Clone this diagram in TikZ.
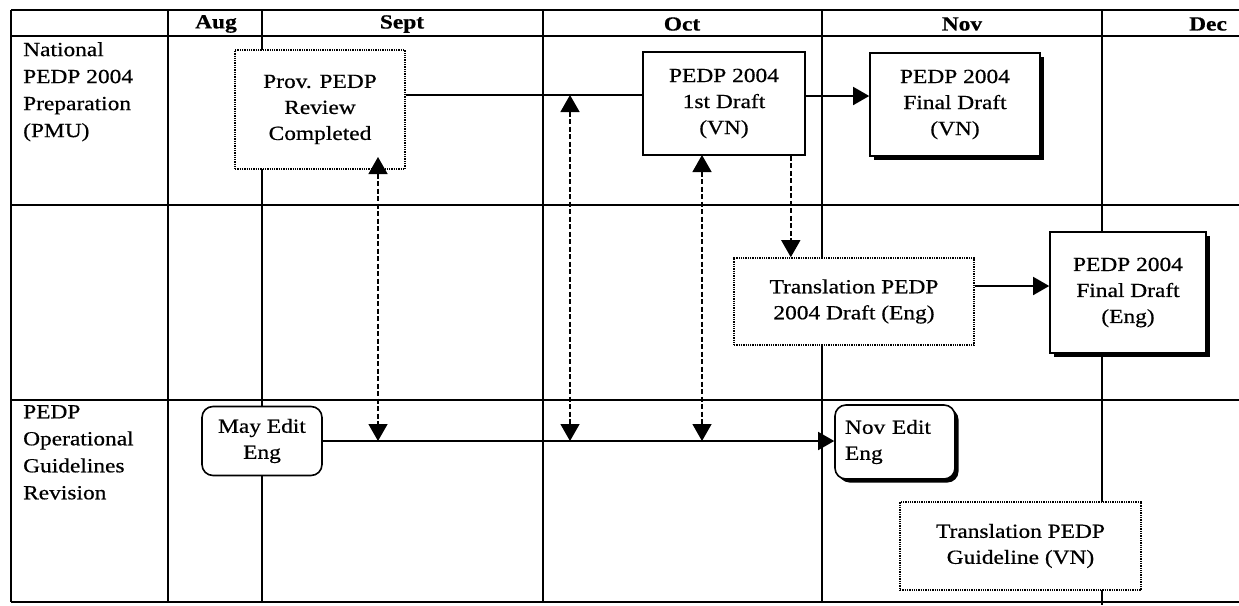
\documentclass[tikz,border=0pt]{standalone}
\usepackage{fontspec}
\setmainfont{Liberation Serif}[FakeStretch=1.17,FakeBold=0.6]
\usetikzlibrary{arrows.meta,shadows}
\begin{document}
\begin{tikzpicture}[x=1pt,y=-1pt,
  font=\fontsize{20}{26}\selectfont,
  grid/.style={line width=1.2pt},
  head/.style={font=\fontsize{20}{26}\selectfont\bfseries, anchor=center},
  rowlabel/.style={anchor=north west, inner sep=0pt, align=left, font=\fontsize{20}{27}\selectfont},
  box/.style={draw, fill=white, line width=1.6pt, align=center, inner sep=2pt},
  dotbox/.style={box, line width=1.6pt, dash pattern=on 1.3pt off 1pt},
  shbox/.style={box, drop shadow={shadow xshift=3.5pt, shadow yshift=-3.5pt, fill=black, opacity=1}},
  rbox/.style={box, rounded corners=11pt},
  conn/.style={line width=1.6pt},
  arr/.style={conn, -{Triangle[length=16pt,width=18pt]}},
  darr/.style={line width=1.4pt, dash pattern=on 5pt off 2.5pt, {Triangle[length=17pt,width=19pt]}-{Triangle[length=17pt,width=19pt]}},
  dparr/.style={line width=1.4pt, dash pattern=on 5pt off 2.5pt, -{Triangle[length=17pt,width=19pt]}}
]
\useasboundingbox (0,0) rectangle (1239,605);
\fill[white] (0,0) rectangle (1239,605);

% table
\draw[grid] (11,10) -- (1239,10);
\draw[grid] (11,36) -- (1239,36);
\draw[grid] (11,205) -- (1239,205);
\draw[grid] (11,400) -- (1239,400);
\draw[grid] (11,602) -- (1239,602);
\draw[grid] (11,10) -- (11,602);
\draw[grid] (168,10) -- (168,602);
\draw[grid] (262,10) -- (262,602);
\draw[grid] (543,10) -- (543,602);
\draw[grid] (822,10) -- (822,602);
\draw[grid] (1102,10) -- (1102,605);

% header
\node[head] (haug) at (216,24) {Aug};
\node[head] (hsep) at (402,24) {Sept};
\node[head] (hoct) at (682,24) {Oct};
\node[head] (hnov) at (962,24) {Nov};
\node[head] (hdec) at (1208,24) {Dec};

% row labels
\node[rowlabel] (r1) at (23,42) {National\\PEDP 2004\\Preparation\\(PMU)};
\node[rowlabel] (r3) at (23,405) {PEDP\\Operational\\Guidelines\\Revision};

% boxes
\node[dotbox, minimum width=170pt, minimum height=119pt] (prov) at (320,109.5) {Prov. PEDP\\Review\\Completed};
\node[box, minimum width=162pt, minimum height=103pt] (draft1) at (724,103.5) {PEDP 2004\\1st Draft\\(VN)};
\node[shbox, minimum width=170pt, minimum height=103pt] (finalvn) at (955,104.5) {PEDP 2004\\Final Draft\\(VN)};
\node[dotbox, minimum width=240pt, minimum height=87pt] (transeng) at (854,301.5) {Translation PEDP\\2004 Draft (Eng)};
\node[shbox, minimum width=156pt, minimum height=121pt] (finaleng) at (1128,292.5) {PEDP 2004\\Final Draft\\(Eng)};
\node[rbox, minimum width=120pt, minimum height=69pt] (mayedit) at (262,441) {May Edit\\Eng};
\node[rbox, minimum width=120pt, minimum height=74pt, align=left, text width=100pt,
      drop shadow={shadow xshift=3.5pt, shadow yshift=-3.5pt, fill=black, opacity=1}] (novedit) at (895,442) {Nov Edit\\Eng};
\node[dotbox, minimum width=241pt, minimum height=88pt] (transguide) at (1020.5,546) {Translation PEDP\\Guideline (VN)};

% connectors
\draw[conn] ([yshift=14.5pt]prov.east) -- ([yshift=14.5pt]prov.east -| draft1.west);
\draw[arr] ([yshift=7.5pt]draft1.east) -- ([yshift=7.5pt]draft1.east -| finalvn.west);
\draw[arr] ([yshift=15.5pt]transeng.east) -- ([yshift=15.5pt]transeng.east -| finaleng.west);
\draw[arr] (mayedit.east) -- (mayedit.east -| novedit.west);
\draw[dparr] ([xshift=-15pt]draft1.south east) -- ([xshift=-15pt]draft1.south east |- transeng.north);

\coordinate (a1) at (378,157);
\coordinate (a2) at (378,441);
\coordinate (b1) at (570,95);
\coordinate (b2) at (570,441);
\coordinate (c1) at (702,155);
\coordinate (c2) at (702,441);
\draw[darr] (a1) -- (a2);
\draw[darr] (b1) -- (b2);
\draw[darr] (c1) -- (c2);
\end{tikzpicture}
\end{document}
